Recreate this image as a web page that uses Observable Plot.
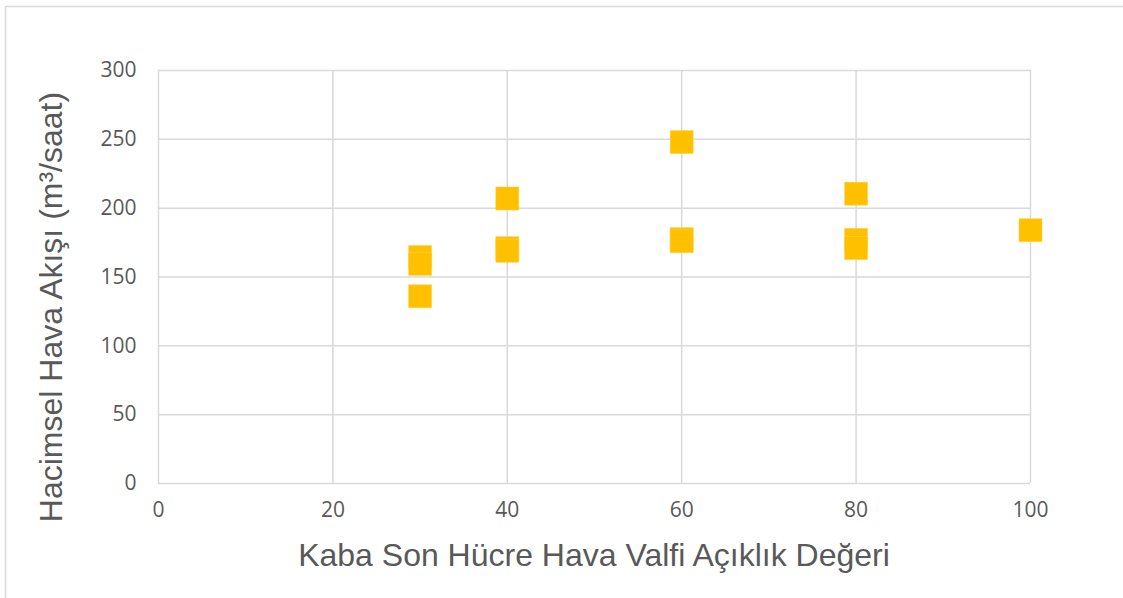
<!DOCTYPE html>
<html>
<head>
<meta charset="utf-8">
<script src="https://cdn.jsdelivr.net/npm/d3@7"></script>
<script src="https://cdn.jsdelivr.net/npm/@observablehq/plot@0.6"></script>
<style>
  html, body { margin: 0; padding: 0; background: #fff; }
  #chart { width: 1123px; height: 598px; overflow: hidden; }
</style>
</head>
<body>
<div id="chart"></div>
<script>
// Data
const valveOpening = [30, 30, 30, 40, 40, 40, 60, 60, 60, 80, 80, 80, 100];
const airFlow      = [164.5, 159.5, 136, 207, 171, 169, 248, 177.5, 176, 210.5, 177, 171, 184];
const xTicks = [0, 20, 40, 60, 80, 100];
const yTicks = [0, 50, 100, 150, 200, 250, 300];
const xTitle = "Kaba Son Hücre Hava Valfi Açıklık Değeri";
const yTitle = "Hacimsel Hava Akışı (m³/saat)";

const points = valveOpening.map((x, i) => ({x, y: airFlow[i]}));

const W = 1123, H = 598;
const mL = 158, mR = 93, mT = 70, mB = 115;

const plot = Plot.plot({
  width: W,
  height: H,
  marginLeft: mL,
  marginRight: mR,
  marginTop: mT,
  marginBottom: mB,
  style: {fontFamily: "'Open Sans', sans-serif", fontSize: "21px", color: "#595959", background: "white"},
  x: {domain: [0, 100], ticks: xTicks, label: null},
  y: {domain: [0, 300], ticks: yTicks, label: null},
  marks: [
    Plot.gridX(xTicks, {stroke: "#d9d9d9", strokeOpacity: 1, strokeWidth: 1.5}),
    Plot.gridY(yTicks, {stroke: "#d9d9d9", strokeOpacity: 1, strokeWidth: 1.5}),
    Plot.axisX(xTicks, {tickSize: 0, tickPadding: 19, fill: "#595959"}),
    Plot.axisY(yTicks, {tickSize: 0, tickPadding: 22, fill: "#595959"}),
    Plot.dot(points, {x: "x", y: "y", symbol: "square", r: 13, fill: "#FFC000", stroke: "#FFD24D", strokeWidth: 0.5})
  ]
});

const svg = d3.select(plot);
// outer chart border
svg.insert("rect", ":first-child")
  .attr("x", 5.5).attr("y", 6.5)
  .attr("width", W + 20).attr("height", H + 20)
  .attr("fill", "none").attr("stroke", "#d9d9d9").attr("stroke-width", 1.5);

svg.append("text")
  .attr("x", (mL + (W - mR)) / 2)
  .attr("y", 566)
  .attr("text-anchor", "middle")
  .style("font-family", "'Liberation Sans', Arial, sans-serif")
  .style("font-size", "32px")
  .attr("fill", "#595959")
  .text(xTitle);

svg.append("text")
  .attr("transform", `translate(62, 307) rotate(-90)`)
  .attr("text-anchor", "middle")
  .style("font-family", "'Liberation Sans', Arial, sans-serif")
  .style("font-size", "32px")
  .attr("fill", "#595959")
  .text(yTitle);

document.getElementById("chart").appendChild(plot);
</script>
</body>
</html>
